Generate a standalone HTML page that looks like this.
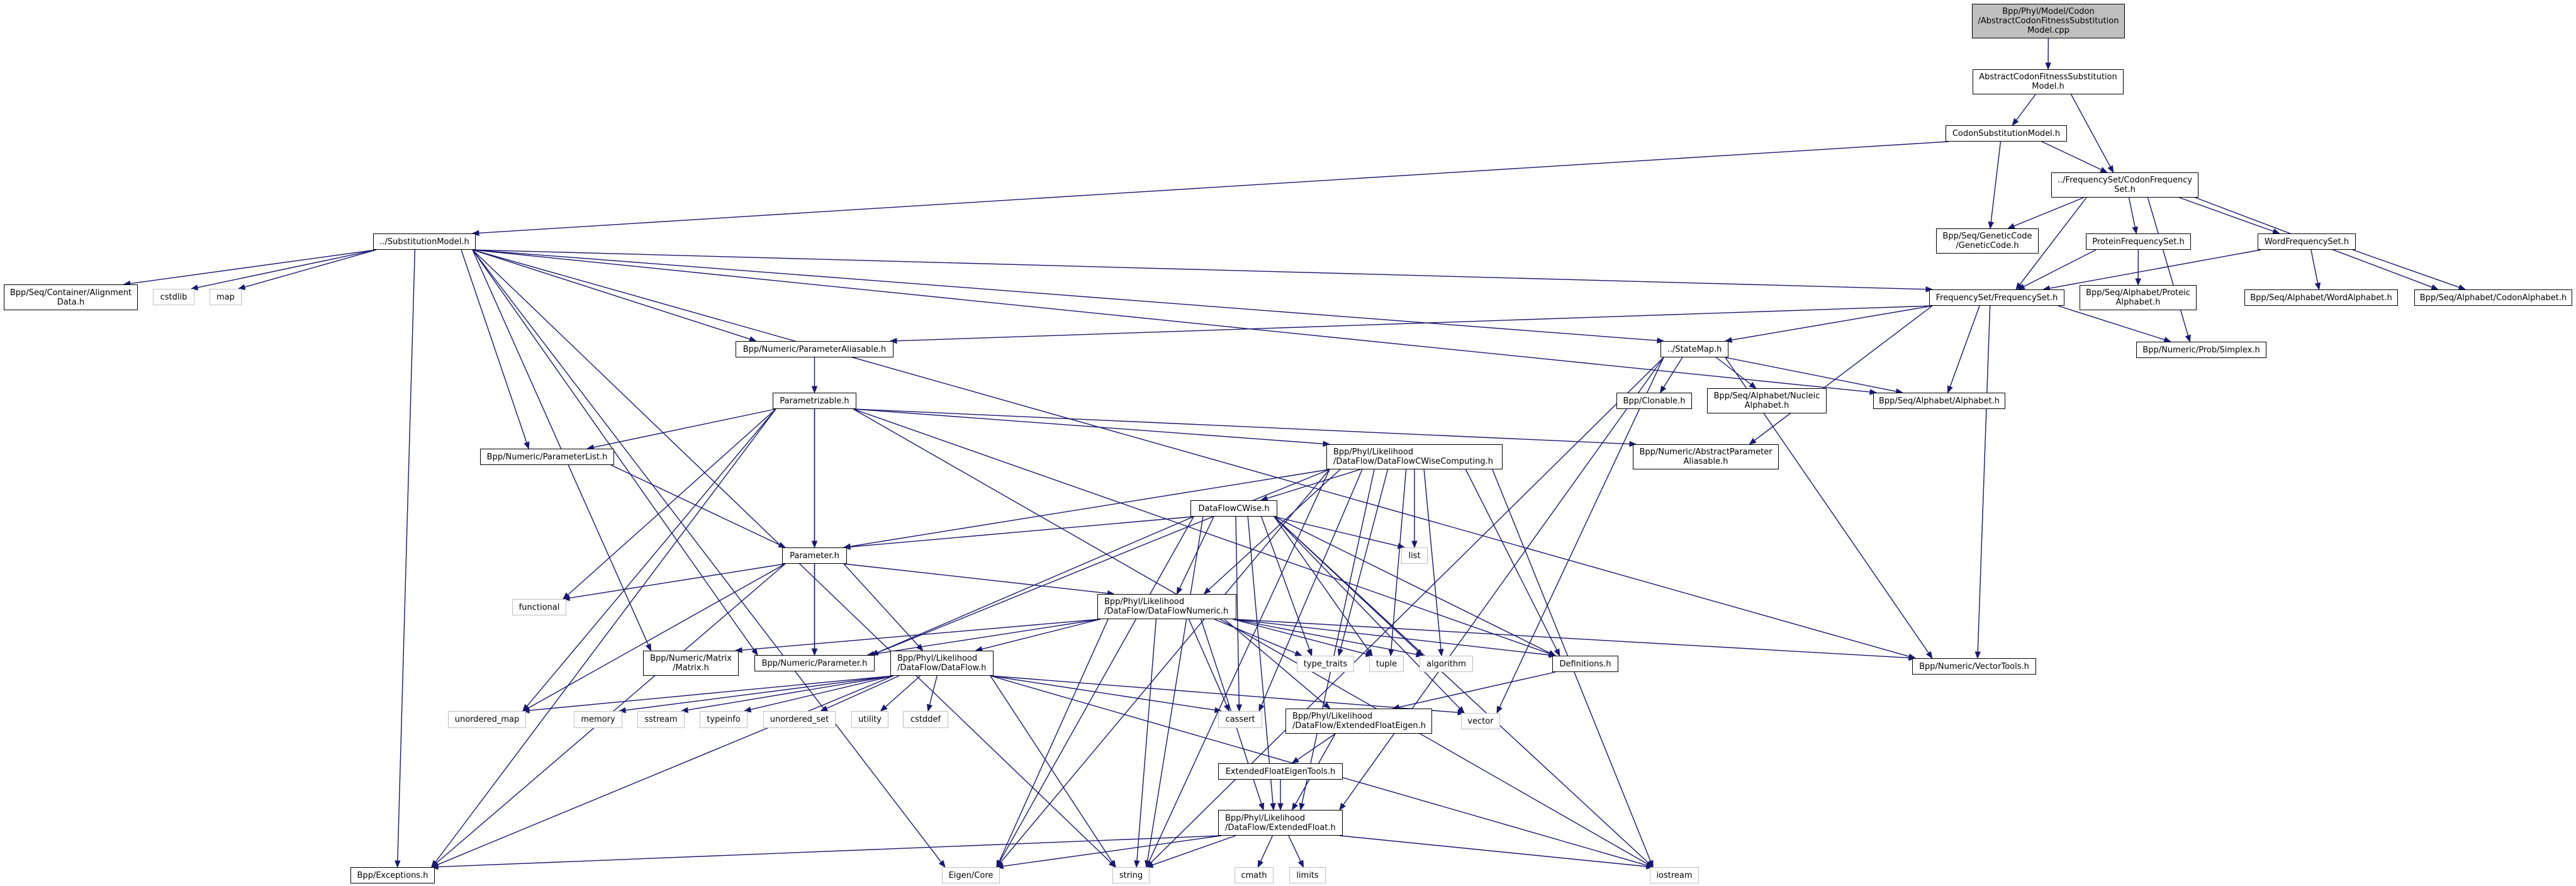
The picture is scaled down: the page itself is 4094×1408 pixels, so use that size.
<!DOCTYPE html>
<html><head><meta charset="utf-8"><style>
html,body{margin:0;padding:0;background:#fff;}
#wrap{position:relative;width:4094px;height:1408px;overflow:hidden;background:#fff;}
.n{position:absolute;box-sizing:border-box;border:1.5px solid #000;background:#fff;font-family:"DejaVu Sans","Liberation Sans",sans-serif;font-size:13px;line-height:15px;color:#000;display:flex;align-items:center;justify-content:center;text-align:center;white-space:nowrap;z-index:2;}
.g{border-color:#bfbfbf;}
.r{background:#bfbfbf;}
svg{position:absolute;left:0;top:0;z-index:1;}
</style></head><body><div id="wrap">
<svg id="s" width="4094" height="1408"></svg>
<div class="n r" id="root" style="left:3134px;top:6px;width:243px;height:55px">Bpp/Phyl/Model/Codon<br>/AbstractCodonFitnessSubstitution<br>Model.cpp</div>
<div class="n" id="abs" style="left:3135px;top:110px;width:240px;height:40px">AbstractCodonFitnessSubstitution<br>Model.h</div>
<div class="n" id="csm" style="left:3092px;top:199px;width:193px;height:26px">CodonSubstitutionModel.h</div>
<div class="n" id="cfs" style="left:3260px;top:274px;width:234px;height:40px">../FrequencySet/CodonFrequency<br>Set.h</div>
<div class="n" id="gc" style="left:3077px;top:363px;width:163px;height:40px">Bpp/Seq/GeneticCode<br>/GeneticCode.h</div>
<div class="n" id="pfs" style="left:3315px;top:371px;width:167px;height:26px">ProteinFrequencySet.h</div>
<div class="n" id="wfs" style="left:3588px;top:371px;width:156px;height:26px">WordFrequencySet.h</div>
<div class="n" id="sm" style="left:593px;top:371px;width:163px;height:26px">../SubstitutionModel.h</div>
<div class="n" id="fs" style="left:3066px;top:460px;width:215px;height:26px">FrequencySet/FrequencySet.h</div>
<div class="n" id="pa" style="left:3305px;top:453px;width:186px;height:40px">Bpp/Seq/Alphabet/Proteic<br>Alphabet.h</div>
<div class="n" id="wa" style="left:3567px;top:460px;width:244px;height:26px">Bpp/Seq/Alphabet/WordAlphabet.h</div>
<div class="n" id="ca" style="left:3837px;top:460px;width:251px;height:26px">Bpp/Seq/Alphabet/CodonAlphabet.h</div>
<div class="n" id="ad" style="left:6px;top:452px;width:213px;height:41px">Bpp/Seq/Container/Alignment<br>Data.h</div>
<div class="n g" id="cstdlib" style="left:243px;top:459px;width:66px;height:26px">cstdlib</div>
<div class="n g" id="map" style="left:333px;top:459px;width:51px;height:26px">map</div>
<div class="n" id="paAl" style="left:1169px;top:542px;width:251px;height:26px">Bpp/Numeric/ParameterAliasable.h</div>
<div class="n" id="stm" style="left:2639px;top:542px;width:108px;height:26px">../StateMap.h</div>
<div class="n" id="simplex" style="left:3395px;top:543px;width:207px;height:26px">Bpp/Numeric/Prob/Simplex.h</div>
<div class="n" id="parz" style="left:1228px;top:624px;width:133px;height:26px">Parametrizable.h</div>
<div class="n" id="clon" style="left:2569px;top:624px;width:120px;height:26px">Bpp/Clonable.h</div>
<div class="n" id="nuc" style="left:2713px;top:617px;width:190px;height:40px">Bpp/Seq/Alphabet/Nucleic<br>Alphabet.h</div>
<div class="n" id="alph" style="left:2977px;top:624px;width:210px;height:26px">Bpp/Seq/Alphabet/Alphabet.h</div>
<div class="n" id="plist" style="left:763px;top:713px;width:213px;height:26px">Bpp/Numeric/ParameterList.h</div>
<div class="n" id="cwc" style="left:2108px;top:706px;width:280px;height:40px;justify-content:flex-start;text-align:left;padding-left:10px">Bpp/Phyl/Likelihood<br>/DataFlow/DataFlowCWiseComputing.h</div>
<div class="n" id="apa" style="left:2595px;top:706px;width:232px;height:40px">Bpp/Numeric/AbstractParameter<br>Aliasable.h</div>
<div class="n" id="cwise" style="left:1892px;top:795px;width:138px;height:26px">DataFlowCWise.h</div>
<div class="n g" id="list" style="left:2227px;top:870px;width:42px;height:26px">list</div>
<div class="n" id="param" style="left:1243px;top:870px;width:103px;height:26px">Parameter.h</div>
<div class="n g" id="functional" style="left:814px;top:952px;width:86px;height:26px">functional</div>
<div class="n" id="dfn" style="left:1744px;top:944px;width:221px;height:40px;justify-content:flex-start;text-align:left;padding-left:10px">Bpp/Phyl/Likelihood<br>/DataFlow/DataFlowNumeric.h</div>
<div class="n g" id="tt" style="left:2061px;top:1042px;width:91px;height:26px">type_traits</div>
<div class="n g" id="tuple" style="left:2176px;top:1042px;width:55px;height:26px">tuple</div>
<div class="n g" id="algorithm" style="left:2256px;top:1042px;width:85px;height:26px">algorithm</div>
<div class="n" id="defs" style="left:2467px;top:1042px;width:105px;height:26px">Definitions.h</div>
<div class="n" id="vt" style="left:3039px;top:1046px;width:197px;height:26px">Bpp/Numeric/VectorTools.h</div>
<div class="n" id="matrix" style="left:1022px;top:1034px;width:152px;height:40px">Bpp/Numeric/Matrix<br>/Matrix.h</div>
<div class="n" id="nparam" style="left:1199px;top:1041px;width:191px;height:26px">Bpp/Numeric/Parameter.h</div>
<div class="n" id="df" style="left:1415px;top:1034px;width:164px;height:40px;justify-content:flex-start;text-align:left;padding-left:10px">Bpp/Phyl/Likelihood<br>/DataFlow/DataFlow.h</div>
<div class="n g" id="umap" style="left:712px;top:1130px;width:124px;height:27px">unordered_map</div>
<div class="n g" id="memory" style="left:912px;top:1130px;width:77px;height:27px">memory</div>
<div class="n g" id="sstream" style="left:1013px;top:1130px;width:75px;height:27px">sstream</div>
<div class="n g" id="typeinfo" style="left:1112px;top:1130px;width:76px;height:27px">typeinfo</div>
<div class="n g" id="uset" style="left:1213px;top:1130px;width:115px;height:27px">unordered_set</div>
<div class="n g" id="utility" style="left:1353px;top:1130px;width:59px;height:27px">utility</div>
<div class="n g" id="cstddef" style="left:1435px;top:1130px;width:72px;height:27px">cstddef</div>
<div class="n g" id="cassert" style="left:1936px;top:1130px;width:70px;height:27px">cassert</div>
<div class="n g" id="vector" style="left:2322px;top:1133px;width:62px;height:26px">vector</div>
<div class="n" id="efe" style="left:2043px;top:1126px;width:233px;height:40px;justify-content:flex-start;text-align:left;padding-left:10px">Bpp/Phyl/Likelihood<br>/DataFlow/ExtendedFloatEigen.h</div>
<div class="n" id="efet" style="left:1936px;top:1213px;width:198px;height:26px">ExtendedFloatEigenTools.h</div>
<div class="n" id="ef" style="left:1936px;top:1287px;width:198px;height:41px;justify-content:flex-start;text-align:left;padding-left:10px">Bpp/Phyl/Likelihood<br>/DataFlow/ExtendedFloat.h</div>
<div class="n" id="exc" style="left:557px;top:1378px;width:134px;height:26px">Bpp/Exceptions.h</div>
<div class="n g" id="eigen" style="left:1497px;top:1378px;width:92px;height:26px">Eigen/Core</div>
<div class="n g" id="string" style="left:1768px;top:1378px;width:59px;height:26px">string</div>
<div class="n g" id="cmath" style="left:1962px;top:1378px;width:62px;height:26px">cmath</div>
<div class="n g" id="limits" style="left:2049px;top:1378px;width:58px;height:26px">limits</div>
<div class="n g" id="iostream" style="left:2622px;top:1378px;width:78px;height:26px">iostream</div>
</div>
<script>
var E="root abs|abs csm|abs cfs|csm sm|csm gc|csm cfs|cfs gc|cfs fs|cfs pfs|cfs wfs|cfs ca|cfs simplex|pfs fs|pfs pa|wfs fs|wfs wa|wfs ca|fs paAl|fs stm|fs alph|fs simplex|fs vt|fs apa|sm ad|sm cstdlib|sm map|sm plist|sm paAl|sm fs|sm stm|sm alph|sm vt|sm nparam|sm matrix|sm exc|sm eigen|sm string|paAl parz|parz plist|parz param|parz functional|parz umap|parz exc|parz cwc|parz apa|parz defs|parz iostream|parz nparam|plist param|cwc param|cwc nparam|cwc cwise|cwc dfn|cwc list|cwc tt|cwc tuple|cwc algorithm|cwc defs|cwc cassert|cwc ef|cwc iostream|cwc string|cwc eigen|cwise param|cwise nparam|cwise dfn|cwise list|cwise tt|cwise tuple|cwise algorithm|cwise defs|cwise cassert|cwise iostream|cwise string|cwise eigen|cwise ef|cwise vector|param functional|param umap|param nparam|param df|param dfn|param exc|dfn matrix|dfn nparam|dfn df|dfn tt|dfn tuple|dfn algorithm|dfn defs|dfn vt|dfn cassert|dfn efe|dfn ef|dfn string|dfn eigen|df umap|df memory|df sstream|df typeinfo|df uset|df utility|df cstddef|df cassert|df vector|df string|df iostream|df exc|defs efe|efe efet|efe ef|efet ef|ef exc|ef eigen|ef string|ef cmath|ef limits|ef iostream|stm clon|stm nuc|stm alph|stm vt|stm string|stm vector|stm ef";
function box(id){var e=document.getElementById(id);var l=parseFloat(e.style.left),t=parseFloat(e.style.top),w=parseFloat(e.style.width),h=parseFloat(e.style.height);return {x:l,y:t,w:w,h:h,cx:l+w/2,cy:t+h/2};}
function clip(b,dx,dy){var sx=dx?(b.w/2)/Math.abs(dx):1e9,sy=dy?(b.h/2)/Math.abs(dy):1e9;var s=Math.min(sx,sy);return [b.cx+dx*s,b.cy+dy*s];}
var svg=document.getElementById('s'),out='';
E.split('|').forEach(function(p){var a=p.split(' '),A=box(a[0]),B=box(a[1]);
var ax=A.cx,ay=A.cy,bx=B.cx,by=B.cy;
if(B.y>A.y+A.h){ay=A.y+A.h;by=B.y;ax=A.cx+Math.max(-A.w/2+5,Math.min(A.w/2-5,(B.cx-A.cx)*0.3));bx=B.cx+Math.max(-B.w/2+5,Math.min(B.w/2-5,(A.cx-B.cx)*0.15));}
else{var d=clip(A,bx-ax,by-ay);var q=clip(B,ax-bx,ay-by);ax=d[0];ay=d[1];bx=q[0];by=q[1];}
var dx=bx-ax,dy=by-ay,L=Math.sqrt(dx*dx+dy*dy)||1,ux=dx/L,uy=dy/L;
var ex=bx-ux*10,ey=by-uy*10;
out+='<line x1="'+ax+'" y1="'+ay+'" x2="'+ex+'" y2="'+ey+'" stroke="#191970" stroke-width="1.4"/>';
out+='<polygon points="'+bx+','+by+' '+(ex-uy*4)+','+(ey+ux*4)+' '+(ex+uy*4)+','+(ey-ux*4)+'" fill="#191970" stroke="#191970"/>';});
svg.innerHTML=out;
</script>
</body></html>
